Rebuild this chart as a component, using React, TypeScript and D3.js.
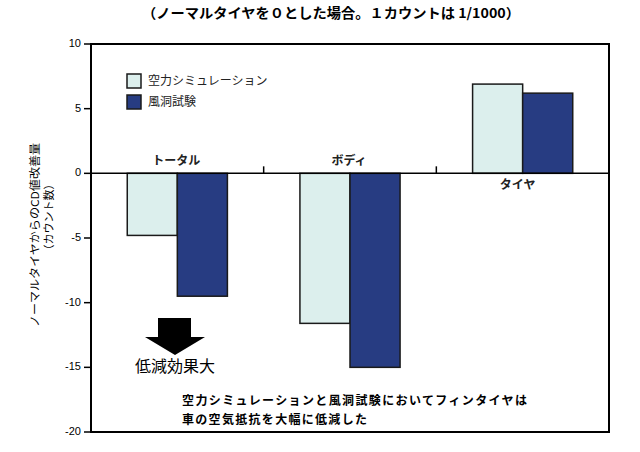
import * as React from 'react';
import * as d3 from 'd3';

const categories = ['トータル', 'ボディ', 'タイヤ'];
const seriesNames = ['空力シミュレーション', '風洞試験'];
const simulation = [-4.8, -11.6, 6.9];
const windTunnel = [-9.5, -15.0, 6.2];
const yTicks = [10, 5, 0, -5, -10, -15, -20];

const title = '（ノーマルタイヤを０とした場合。１カウントは 1/1000）';
const yTitle = ['ノーマルタイヤからのCD値改善量', '（カウント数）'];
const arrowLabel = '低減効果大';
const note = ['空力シミュレーションと風洞試験においてフィンタイヤは', '車の空気抵抗を大幅に低減した'];

const colors = ['#dcefed', '#273c82'];
const font = '"Noto Sans CJK JP", "Noto Sans", sans-serif';

const App: React.FunctionComponent = () => {
    const width = 640;
    const height = 452;
    const left = 91, right = 609, top = 44, bottom = 432;

    const y = d3.scaleLinear().domain([-20, 10]).range([bottom, top]);
    const x0 = d3.scaleBand<string>().domain(categories).range([left, right])
        .paddingInner(0.42).paddingOuter(0.21);
    const x1 = d3.scaleBand<number>().domain([0, 1]).range([0, x0.bandwidth()]);
    const step = x0.step();
    const series = [simulation, windTunnel];

    // labels for categories: above the line for negatives, below for positives
    const labelY = (i: number) => (simulation[i] < 0 ? y(0) - 12 : y(0) + 12);

    const arrowX = 175;

    return (
        <svg width={width} height={height} style={{ position: 'absolute', left: 0, top: 0, background: '#fff' }}
            fontFamily={font}>
            <text x={331} y={14} textAnchor="middle" dominantBaseline="middle" fontSize={13.5} fontWeight="bold"
                textLength={378} lengthAdjust="spacingAndGlyphs">{title}</text>

            {/* y axis ticks */}
            {yTicks.map(t => (
                <g key={t}>
                    <line x1={left - 7} x2={left} y1={y(t)} y2={y(t)} stroke="#000" strokeWidth={1.5} />
                    <text x={left - 10} y={y(t)} textAnchor="end" dominantBaseline="middle" fontSize={11}
                        fontFamily="Liberation Sans, Arial, sans-serif">{t}</text>
                </g>
            ))}

            {/* y title */}
            <g transform={`translate(36, ${235}) rotate(-90)`}>
                <text x={0} y={0} textAnchor="middle" dominantBaseline="middle" fontSize={11}
                    textLength={184} lengthAdjust="spacingAndGlyphs">{yTitle[0]}</text>
            </g>
            <g transform={`translate(50, ${217}) rotate(-90)`}>
                <text x={0} y={0} textAnchor="middle" dominantBaseline="middle" fontSize={11}>{yTitle[1]}</text>
            </g>

            {/* bars */}
            {categories.map((c, i) => (
                <g key={c} transform={`translate(${x0(c)},0)`}>
                    {series.map((s, j) => (
                        <rect key={j} x={x1(j)} width={x1.bandwidth()}
                            y={Math.min(y(s[i]), y(0))} height={Math.abs(y(s[i]) - y(0))}
                            fill={colors[j]} stroke="#1a1a1a" strokeWidth={1.5} />
                    ))}
                </g>
            ))}

            {/* zero line and category separators */}
            <line x1={left} x2={right} y1={y(0)} y2={y(0)} stroke="#000" strokeWidth={1.5} />
            {categories.slice(1).map(c => (
                <line key={c} x1={(x0(c) as number) - (step - x0.bandwidth()) / 2}
                    x2={(x0(c) as number) - (step - x0.bandwidth()) / 2}
                    y1={y(0) - 7} y2={y(0)} stroke="#000" strokeWidth={1.5} />
            ))}
            {categories.map((c, i) => (
                <text key={c} x={(x0(c) as number) + x0.bandwidth() / 2 - (simulation[i] < 0 ? 1 : 5)} y={labelY(i)}
                    textAnchor="middle" dominantBaseline="middle" fontSize={12} fontWeight="bold"
                    fill="#222">{c}</text>
            ))}

            {/* plot border */}
            <rect x={left} y={top} width={right - left} height={bottom - top} fill="none" stroke="#000" strokeWidth={2} />

            {/* legend */}
            {seriesNames.map((n, j) => (
                <g key={n} transform={`translate(127, ${74 + j * 21})`}>
                    <rect width={14} height={14} fill={colors[j]} stroke="#1a1a1a" strokeWidth={1.5} />
                    <text x={21} y={7.5} dominantBaseline="middle" fontSize={12} fill="#222">{n}</text>
                </g>
            ))}

            {/* arrow */}
            <path d={`M${arrowX - 17},318 L${arrowX + 16},318 L${arrowX + 16},337 L${arrowX + 30},337 L${arrowX},355
                L${arrowX - 30},337 L${arrowX - 17},337 Z`} fill="#000" />
            <text x={arrowX} y={368} textAnchor="middle" dominantBaseline="middle" fontSize={16}>{arrowLabel}</text>

            {/* note */}
            <text x={182} y={402} dominantBaseline="middle" fontSize={12} fontWeight="bold"
                textLength={345} lengthAdjust="spacing">{note[0]}</text>
            <text x={182} y={421} dominantBaseline="middle" fontSize={12} fontWeight="bold"
                textLength={185} lengthAdjust="spacing">{note[1]}</text>
        </svg>
    );
};

export default App;
